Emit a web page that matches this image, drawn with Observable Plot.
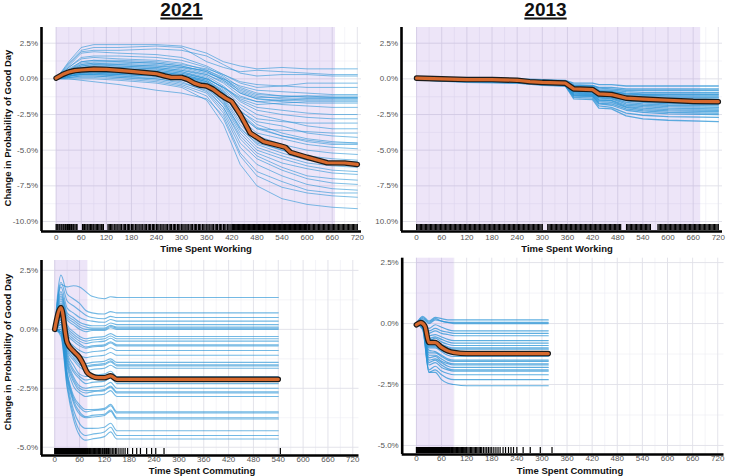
<!DOCTYPE html>
<html>
<head>
<meta charset="utf-8">
<script src="https://cdn.jsdelivr.net/npm/d3@7"></script>
<script src="https://cdn.jsdelivr.net/npm/@observablehq/plot@0.6"></script>
<style>
  html, body { margin: 0; padding: 0; background: white; }
  #page { position: relative; width: 733px; height: 476px; overflow: hidden; background: white;
          font-family: "Liberation Sans", Arial, Helvetica, sans-serif; }
  .panel { position: absolute; overflow: hidden; }
  .lbl { position: absolute; transform: translate(-50%, -50%); white-space: nowrap; line-height: 1; color: #111; }
  .title { font-weight: bold; font-size: 19px; text-decoration: underline; text-decoration-thickness: 2px; text-underline-offset: 2px; }
  .xt { font-weight: bold; font-size: 9.5px; }
  .yt { font-weight: bold; font-size: 9.5px; transform: translate(-50%, -50%) rotate(-90deg); }
</style>
</head>
<body>
<div id="page"></div>
<script>
// ---------------- text ----------------
const panelTitles = ["2021", "2013"];
const yTitle = "Change in Probability of Good Day";
const xTitles = ["Time Spent Working", "Time Spent Commuting"];

// ---------------- ticks ----------------
const xTicks = [0, 60, 120, 180, 240, 300, 360, 420, 480, 540, 600, 660, 720];
const xTickLabels = ["0", "60", "120", "180", "240", "300", "360", "420", "480", "540", "600", "660", "720"];
const xMinor = [30, 90, 150, 210, 270, 330, 390, 450, 510, 570, 630, 690];
const yTicksTop = [-10, -7.5, -5, -2.5, 0, 2.5];
const yTickLabelsTopLeft = ["-10.0%", "-7.5%", "-5.0%", "-2.5%", "0.0%", "2.5%"];
const yTickLabelsTopRight = ["10.0%", "-7.5%", "-5.0%", "-2.5%", "0.0%", "2.5%"];
const yMinorTop = [-8.75, -6.25, -3.75, -1.25, 1.25];
const yTicksBottom = [-5, -2.5, 0, 2.5];
const yTickLabelsBottom = ["-5.0%", "-2.5%", "0.0%", "2.5%"];
const yMinorBottom = [-3.75, -1.25, 1.25];

// ---------------- 2021 working ----------------
const work2021Knots = [0, 30, 60, 90, 150, 240, 300, 360, 400, 440, 480, 540, 600, 660, 720];
const work2021Ice = [
  [0, 1.2, 2.2, 2.4, 2.4, 2.4, 2.3, 1.8, 1.2, 0.9, 0.7, 0.8, 0.7, 0.7, 0.7],
  [0, 1.0, 1.9, 2.0, 2.0, 2.1, 2.0, 1.6, 1.0, 0.4, 0.2, 0.3, 0.3, 0.2, 0.2],
  [0, 0.9, 1.8, 1.9, 1.8, 1.7, 1.5, 0.9, 0.3, -0.3, -0.6, -0.5, -0.3, -0.3, -0.3],
  [0, 0.8, 1.5, 1.6, 1.6, 1.5, 1.3, 0.8, 0.2, -0.6, -1.0, -1.2, -1.2, -1.3, -1.3],
  [0, 0.6, 1.2, 1.3, 1.2, 1.1, 0.9, 0.5, -0.1, -0.8, -1.2, -1.4, -1.4, -1.4, -1.4],
  [0, 0.5, 1.0, 1.1, 1.0, 0.9, 0.7, 0.3, -0.2, -1.0, -1.4, -1.5, -1.5, -1.5, -1.5],
  [0, 0.5, 0.9, 1.0, 0.9, 0.8, 0.6, 0.2, -0.5, -1.5, -2.0, -2.2, -2.4, -2.5, -2.5],
  [0, 0.4, 0.7, 0.8, 0.7, 0.6, 0.4, 0.0, -0.6, -1.4, -1.8, -1.7, -1.6, -1.6, -1.6],
  [0, 0.4, 0.6, 0.7, 0.6, 0.5, 0.3, -0.1, -0.8, -2.0, -2.8, -3.0, -3.1, -3.1, -3.1],
  [0, 0.3, 0.5, 0.6, 0.5, 0.4, 0.2, -0.3, -1.0, -2.5, -3.5, -3.6, -3.7, -3.8, -3.8],
  [0, 0.3, 0.5, 0.5, 0.5, 0.4, 0.2, -0.2, -0.9, -2.2, -3.2, -3.8, -4.2, -4.4, -4.5],
  [0, 0.3, 0.4, 0.5, 0.4, 0.3, 0.1, -0.4, -1.3, -3.0, -4.0, -4.6, -5.0, -5.2, -5.3],
  [0, 0.2, 0.4, 0.4, 0.3, 0.2, 0.0, -0.5, -1.5, -3.5, -4.5, -5.0, -5.6, -5.9, -6.0],
  [0, 0.2, 0.3, 0.3, 0.2, 0.1, -0.1, -0.6, -1.8, -3.8, -5.0, -5.6, -6.1, -6.4, -6.5],
  [0, 0.2, 0.3, 0.3, 0.2, 0.0, -0.3, -0.8, -2.0, -4.2, -5.4, -6.2, -6.8, -7.0, -7.1],
  [0, 0.1, 0.2, 0.2, 0.1, -0.1, -0.4, -1.0, -2.4, -4.8, -6.0, -6.8, -7.4, -7.7, -7.8],
  [0, 0.1, 0.1, 0.1, 0.0, -0.2, -0.5, -1.2, -2.8, -5.4, -6.8, -7.6, -8.0, -8.2, -8.3],
  [0, 0.0, 0.0, 0.0, -0.1, -0.3, -0.6, -1.5, -3.2, -6.0, -7.5, -8.4, -8.8, -9.0, -9.1],
  [0, 0.5, 0.8, 0.9, 0.9, 0.8, 0.6, 0.3, -0.3, -1.2, -1.6, -1.8, -1.9, -2.0, -2.0],
  [0, 0.6, 1.0, 1.1, 1.1, 1.0, 0.8, 0.4, 0.0, -0.5, -0.8, -0.9, -1.0, -1.1, -1.1],
  [0, 0.4, 0.7, 0.8, 0.8, 0.7, 0.5, 0.1, -0.7, -1.8, -2.5, -2.9, -3.3, -3.5, -3.5],
  [0, 0.3, 0.6, 0.6, 0.6, 0.5, 0.3, -0.2, -1.1, -2.8, -3.8, -4.2, -4.6, -4.8, -4.9],
  [0, 0.3, 0.5, 0.6, 0.5, 0.4, 0.2, -0.2, -1.0, -2.6, -3.5, -4.0, -4.3, -4.5, -4.5],
  [0, 0.2, 0.4, 0.4, 0.4, 0.3, 0.1, -0.4, -1.4, -3.2, -4.4, -5.0, -5.4, -5.6, -5.7],
  [0, 0.8, 1.4, 1.5, 1.4, 1.3, 1.1, 0.6, 0.0, -0.7, -1.1, -1.2, -1.3, -1.3, -1.3],
  [0, 0.7, 1.2, 1.3, 1.3, 1.2, 1.0, 0.7, 0.3, -0.2, -0.4, -0.5, -0.6, -0.6, -0.6],
  [0, 0.2, 0.3, 0.3, 0.3, 0.2, 0.0, -0.7, -2.0, -4.0, -5.2, -5.9, -6.3, -6.6, -6.7],
  [0, 0.1, 0.2, 0.2, 0.1, 0.0, -0.2, -0.9, -2.2, -4.5, -5.6, -6.4, -7.0, -7.3, -7.4],
  [0, 0.4, 0.8, 0.9, 0.8, 0.7, 0.5, 0.0, -0.6, -1.6, -2.2, -2.5, -2.7, -2.8, -2.8],
  [0, 1.1, 2.0, 2.2, 2.2, 2.3, 2.2, 1.2, 0.8, 0.5, 0.6, 0.5, 0.4, 0.3, 0.3],
  [0, 0.3, 0.5, 0.5, 0.4, 0.3, 0.1, -0.3, -1.0, -2.4, -3.4, -4.0, -4.4, -4.6, -4.6],
  [0, 0.2, 0.3, 0.4, 0.3, 0.2, 0.0, -0.6, -1.7, -3.6, -4.8, -5.4, -5.9, -6.1, -6.2],
  [0, 0.4, 0.6, 0.7, 0.7, 0.6, 0.4, 0.0, -0.6, -1.3, -1.6, -1.5, -1.4, -1.4, -1.4],
  [0, 0.6, 1.1, 1.2, 1.2, 1.1, 0.9, 0.5, -0.1, -1.0, -1.4, -1.6, -1.7, -1.7, -1.7],
  [0, 0.0, -0.1, -0.2, -0.4, -0.8, -1.0, -1.4, -2.6, -5.2, -6.5, -7.2, -7.8, -8.0, -8.0],
  [0, 0.5, 0.9, 1.0, 1.0, 0.9, 0.8, 0.6, 0.1, -0.9, -1.3, -1.3, -1.2, -1.2, -1.2],
  [0, 0.3, 0.6, 0.7, 0.6, 0.5, 0.3, -0.1, -0.9, -2.3, -3.0, -3.3, -3.8, -4.0, -4.1],
  [0, 0.2, 0.4, 0.5, 0.4, 0.3, 0.1, -0.5, -1.6, -3.4, -4.6, -5.2, -5.7, -5.8, -5.8]
];
const work2021PdX = [0, 15, 30, 45, 60, 90, 120, 150, 180, 210, 240, 260, 275, 300, 315, 330, 345, 360, 375, 390, 405, 420, 440, 464, 496, 536, 548, 560, 600, 648, 690, 720];
const work2021PdY = [0.05, 0.3, 0.48, 0.58, 0.62, 0.68, 0.66, 0.6, 0.52, 0.44, 0.36, 0.2, 0.1, 0.1, -0.05, -0.3, -0.45, -0.5, -0.72, -1.05, -1.35, -1.6, -2.5, -3.8, -4.4, -4.7, -4.8, -5.15, -5.5, -5.88, -5.9, -6.0];
const work2021Shade = [0, 668];
const work2021Rug = [0,2,4,7,9,12,14,17,19,22,24,27,30,32,35,37,40,42,45,48,50,
  63,66,68,71,74,76,79,82,85,88,90,93,96,99,102,105,108,110,113,
  124,127,130,133,136,140,143,146,150,153,156,160,163,166,170,173,176,180,183,186,190,193,196,200,203,206,210,213,216,220,223,226,230,233,236,240,243,246,250,253,256,260,263,266,270,273,276,280,283,286,290,293,296,300,303,306,310,313,316,320,323,326,330,333,336,340,343,346,350,353,356,360,363,366,370,373,376,380,383,386,390,393,396,400,403,406,410,413,416,
  420,422,424,426,428,430,432,434,436,438,440,442,444,446,448,450,452,454,456,458,460,462,464,466,468,470,472,474,476,478,480,482,484,486,488,490,492,494,496,498,500,502,504,506,508,510,512,514,516,518,520,522,524,526,528,530,532,534,536,538,540,542,544,546,548,550,552,554,556,558,560,562,564,566,568,570,572,574,576,578,580,582,584,586,588,590,592,594,596,598,
  600,603,606,609,612,615,618,621,624,627,630,633,636,639,642,645,648,651,654,657,660,663,666,669,672,675,678,681,684,687,690,693,696,699,702,705,708,711,714,717,720];

// ---------------- 2013 working ----------------
const work2013Knots = [0, 60, 120, 240, 300, 355, 375, 420, 435, 465, 500, 540, 600, 720];
const work2013Ice = [
  [0.1, 0.1, 0.05, 0.0, -0.05, -0.1, -0.3, -0.3, -0.4, -0.4, -0.5, -0.5, -0.5, -0.5],
  [0.1, 0.05, 0.0, -0.05, -0.1, -0.15, -0.45, -0.5, -0.65, -0.7, -0.8, -0.8, -0.8, -0.8],
  [0.05, 0.0, 0.0, -0.1, -0.15, -0.2, -0.55, -0.6, -0.85, -0.9, -1.0, -1.05, -1.05, -1.05],
  [0.05, 0.0, -0.05, -0.1, -0.2, -0.25, -0.65, -0.7, -0.95, -1.0, -1.2, -1.25, -1.3, -1.3],
  [0.05, 0.0, -0.05, -0.15, -0.2, -0.25, -0.7, -0.75, -1.05, -1.1, -1.35, -1.4, -1.45, -1.5],
  [0.0, -0.05, -0.1, -0.15, -0.25, -0.3, -0.8, -0.85, -1.15, -1.2, -1.5, -1.6, -1.7, -1.75],
  [0.0, -0.05, -0.1, -0.2, -0.3, -0.35, -0.9, -0.95, -1.3, -1.35, -1.65, -1.75, -1.85, -1.9],
  [0.0, -0.1, -0.15, -0.2, -0.3, -0.4, -1.0, -1.05, -1.45, -1.5, -1.85, -1.95, -2.05, -2.1],
  [0.0, -0.1, -0.15, -0.25, -0.35, -0.4, -1.1, -1.15, -1.6, -1.65, -2.0, -2.15, -2.25, -2.3],
  [-0.05, -0.1, -0.2, -0.25, -0.35, -0.45, -1.2, -1.25, -1.75, -1.85, -2.2, -2.35, -2.45, -2.5],
  [-0.05, -0.15, -0.2, -0.3, -0.4, -0.5, -1.3, -1.35, -1.9, -2.0, -2.4, -2.55, -2.65, -2.7],
  [-0.05, -0.15, -0.25, -0.3, -0.45, -0.5, -1.4, -1.45, -2.05, -2.1, -2.6, -2.8, -2.9, -3.0],
  [0.1, 0.05, 0.0, -0.05, -0.1, -0.15, -0.4, -0.45, -0.6, -0.6, -0.7, -0.7, -0.7, -0.7],
  [0.05, 0.0, -0.05, -0.1, -0.15, -0.2, -0.6, -0.65, -0.9, -0.95, -1.1, -1.15, -1.2, -1.2],
  [0.0, -0.05, -0.1, -0.15, -0.25, -0.3, -0.75, -0.8, -1.1, -1.15, -1.4, -1.5, -1.55, -1.6],
  [0.0, -0.05, -0.1, -0.2, -0.25, -0.35, -0.85, -0.9, -1.25, -1.3, -1.55, -1.65, -1.75, -1.8],
  [0.0, -0.1, -0.1, -0.2, -0.3, -0.4, -0.95, -1.0, -1.35, -1.4, -1.75, -1.85, -1.95, -2.0],
  [-0.05, -0.1, -0.15, -0.25, -0.35, -0.45, -1.15, -1.2, -1.7, -1.75, -2.1, -2.25, -2.35, -2.4],
  [0.05, 0.0, -0.05, -0.1, -0.15, -0.2, -0.5, -0.55, -0.75, -0.8, -0.9, -0.95, -0.95, -0.95],
  [0.0, -0.05, -0.1, -0.15, -0.2, -0.3, -0.7, -0.75, -1.0, -1.05, -1.25, -1.35, -1.4, -1.4],
  [0.05, 0.0, -0.05, -0.1, -0.2, -0.25, -0.6, -0.65, -0.85, -0.9, -1.05, -1.1, -1.1, -1.1],
  [0.0, -0.05, -0.1, -0.2, -0.3, -0.35, -0.85, -0.9, -1.2, -1.25, -1.45, -1.55, -1.6, -1.65],
  [0.0, -0.1, -0.15, -0.25, -0.3, -0.4, -1.05, -1.1, -1.5, -1.55, -1.95, -2.05, -2.15, -2.2]
];
const work2013PdX = [0, 60, 120, 180, 240, 270, 300, 355, 375, 420, 435, 465, 500, 540, 600, 660, 720];
const work2013PdY = [0.05, 0.0, -0.05, -0.05, -0.1, -0.2, -0.25, -0.3, -0.7, -0.75, -1.05, -1.1, -1.35, -1.42, -1.5, -1.58, -1.6];
const work2013Shade = [0, 678];
const work2013Rug = [0,3,6,9,12,15,18,21,24,27,30,33,36,39,42,45,48,51,54,57,60,63,66,69,72,75,78,81,84,87,90,93,96,99,102,105,108,111,114,117,120,123,126,129,132,135,138,141,144,147,150,153,156,159,162,165,168,171,174,177,180,183,186,189,192,195,198,201,204,207,210,213,216,219,222,225,228,231,234,237,240,243,246,249,252,255,258,261,264,267,270,273,276,279,282,285,288,291,294,297,300,
  313,316,319,322,325,328,331,334,337,340,343,346,349,352,355,358,361,364,367,370,373,376,379,382,385,388,391,394,397,400,403,406,409,412,415,418,421,424,427,430,433,436,439,442,445,448,451,454,457,460,463,466,469,472,475,478,481,484,487,
  501,504,507,510,513,516,519,522,525,528,531,534,537,540,543,546,549,552,555,558,
  576,579,582,585,588,591,594,597,600,603,606,609,612,615,618,621,624,627,630,633,636,639,642,645,648,651,654,657,660,663,666,669,672,675,678,681,684,687,690,693,696,699,702,705,708,711,714,717,720];

// ---------------- 2021 commuting ----------------
const commute2021Knots = [0, 15, 30, 45, 60, 75, 90, 120, 135, 150, 540];
const commute2021Ice = [
  [0, 1.9, 1.8, 1.85, 1.8, 1.6, 1.4, 1.3, 1.38, 1.35, 1.35],
  [0, 2.3, 1.5, 1.3, 1.1, 0.8, 0.7, 0.65, 0.75, 0.7, 0.7],
  [0, 2.0, 1.2, 1.0, 0.8, 0.6, 0.5, 0.45, 0.55, 0.5, 0.5],
  [0, 1.8, 0.9, 0.7, 0.5, 0.4, 0.35, 0.3, 0.42, 0.35, 0.35],
  [0, 1.5, 0.6, 0.4, 0.2, 0.1, 0.05, 0.05, 0.17, 0.1, 0.1],
  [0, 1.3, 0.4, 0.2, 0.0, -0.1, -0.05, -0.05, 0.07, 0.0, 0.0],
  [0, 1.2, 0.2, -0.1, -0.3, -0.4, -0.35, -0.3, -0.18, -0.3, -0.3],
  [0, 1.0, 0.0, -0.3, -0.5, -0.6, -0.55, -0.5, -0.38, -0.5, -0.5],
  [0, 0.9, -0.2, -0.5, -0.7, -0.8, -0.75, -0.7, -0.58, -0.7, -0.7],
  [0, 0.8, -0.4, -0.7, -0.9, -1.0, -0.95, -0.9, -0.78, -0.9, -0.9],
  [0, 0.7, -0.5, -0.9, -1.1, -1.2, -1.15, -1.1, -0.98, -1.1, -1.1],
  [0, 0.6, -0.6, -1.0, -1.3, -1.45, -1.4, -1.35, -1.25, -1.4, -1.4],
  [0, 0.5, -0.8, -1.2, -1.5, -1.6, -1.55, -1.5, -1.38, -1.55, -1.55],
  [0, 0.4, -1.0, -1.5, -1.9, -2.0, -1.95, -1.9, -1.78, -2.0, -2.0],
  [0, 0.3, -1.2, -1.8, -2.1, -2.3, -2.25, -2.2, -2.06, -2.3, -2.3],
  [0, 0.2, -1.3, -2.0, -2.4, -2.5, -2.45, -2.4, -2.25, -2.5, -2.5],
  [0, 0.1, -1.5, -2.2, -2.6, -2.7, -2.65, -2.6, -2.45, -2.7, -2.7],
  [0, 0.0, -1.6, -2.4, -2.7, -2.85, -2.8, -2.75, -2.6, -2.85, -2.85],
  [0, 0.0, -1.8, -2.8, -3.2, -3.4, -3.4, -3.35, -3.18, -3.5, -3.5],
  [0, -0.1, -2.0, -3.0, -3.5, -3.7, -3.65, -3.6, -3.42, -3.75, -3.75],
  [0, -0.2, -2.2, -3.4, -4.0, -4.2, -4.2, -4.15, -3.98, -4.3, -4.3],
  [0, -0.2, -2.4, -3.6, -4.3, -4.5, -4.45, -4.35, -4.15, -4.5, -4.5],
  [0, -0.3, -2.5, -3.8, -4.5, -4.7, -4.65, -4.55, -4.35, -4.65, -4.65],
  [0, 1.1, 0.1, -0.2, -0.4, -0.5, -0.45, -0.4, -0.28, -0.4, -0.4],
  [0, 0.9, -0.1, -0.4, -0.6, -0.75, -0.7, -0.65, -0.53, -0.65, -0.65],
  [0, 0.5, -0.7, -1.1, -1.4, -1.55, -1.5, -1.45, -1.33, -1.5, -1.5],
  [0, 0.3, -1.1, -1.7, -2.0, -2.15, -2.1, -2.05, -1.92, -2.1, -2.1],
  [0, -0.1, -1.9, -2.9, -3.3, -3.5, -3.45, -3.4, -3.24, -3.55, -3.55],
  [0, 1.4, 0.5, 0.3, 0.1, 0.0, 0.0, 0.0, 0.12, 0.05, 0.05],
  [0, 0.2, -1.4, -2.1, -2.5, -2.6, -2.6, -2.55, -2.4, -2.65, -2.65],
  [0, 1.6, 0.7, 0.5, 0.3, 0.2, 0.15, 0.15, 0.27, 0.2, 0.2],
  [0, 0.4, -0.9, -1.3, -1.6, -1.75, -1.7, -1.65, -1.52, -1.65, -1.65],
  [0, -0.1, -2.1, -3.1, -3.6, -3.75, -3.72, -3.65, -3.48, -3.8, -3.8]
];
const commute2021PdX = [0, 15, 30, 45, 60, 68, 78, 90, 105, 120, 135, 150, 540];
const commute2021PdY = [0, 0.92, -0.56, -0.92, -1.2, -1.45, -1.82, -1.98, -2.05, -2.05, -1.97, -2.12, -2.12];
const commute2021Shade = [0, 80];
const commute2021Rug = [0,1,2,3,4,5,6,7,8,9,10,11,12,13,14,15,16,17,18,19,20,21,22,23,24,25,26,27,28,29,30,31,32,33,34,35,36,37,38,39,40,41,42,43,44,45,46,47,48,49,50,51,52,53,54,55,56,57,58,59,60,61,62,63,64,65,66,67,68,69,70,
  72,74,75,77,79,80,82,84,86,88,90,92,94,96,98,100,102,104,106,108,110,112,115,117,120,122,125,128,130,133,136,140,143,147,150,155,160,165,170,176,188,198,207,222,234,244,264,545];

// ---------------- 2013 commuting ----------------
const commute2013Knots = [0, 15, 30, 45, 60, 75, 90, 120, 315];
const commute2013Ice = [
  [0, 0.3, 0.1, 0.25, 0.2, 0.15, 0.15, 0.15, 0.15],
  [0, 0.2, 0.0, 0.15, 0.1, 0.05, 0.0, 0.0, 0.0],
  [0, 0.15, -0.2, -0.05, -0.15, -0.25, -0.3, -0.3, -0.3],
  [0, 0.1, -0.4, -0.3, -0.4, -0.45, -0.5, -0.5, -0.5],
  [0, 0.05, -0.5, -0.45, -0.55, -0.65, -0.7, -0.7, -0.7],
  [0, 0.0, -0.7, -0.6, -0.75, -0.85, -0.9, -0.9, -0.9],
  [0, 0.0, -0.8, -0.75, -0.9, -1.0, -1.05, -1.05, -1.05],
  [0, -0.05, -0.9, -0.9, -1.05, -1.15, -1.2, -1.2, -1.2],
  [0, -0.05, -1.0, -1.0, -1.15, -1.3, -1.35, -1.35, -1.35],
  [0, -0.1, -1.1, -1.15, -1.3, -1.45, -1.5, -1.5, -1.5],
  [0, -0.1, -1.3, -1.3, -1.45, -1.6, -1.65, -1.65, -1.65],
  [0, -0.15, -1.5, -1.45, -1.6, -1.75, -1.8, -1.8, -1.8],
  [0, -0.15, -1.7, -1.6, -1.8, -1.9, -1.95, -1.95, -1.95],
  [0, -0.2, -1.9, -1.75, -1.95, -2.05, -2.1, -2.1, -2.1],
  [0, -0.2, -2.0, -1.9, -2.1, -2.25, -2.3, -2.3, -2.3],
  [0, -0.25, -2.0, -2.0, -2.3, -2.45, -2.5, -2.55, -2.55],
  [0, 0.1, -0.3, -0.2, -0.3, -0.35, -0.4, -0.4, -0.4],
  [0, 0.0, -0.6, -0.55, -0.65, -0.75, -0.8, -0.8, -0.8],
  [0, -0.05, -0.95, -0.95, -1.1, -1.2, -1.25, -1.25, -1.25],
  [0, -0.1, -1.2, -1.2, -1.35, -1.5, -1.55, -1.55, -1.55],
  [0, 0.25, 0.05, 0.2, 0.1, 0.05, 0.05, 0.05, 0.05],
  [0, -0.15, -1.6, -1.5, -1.7, -1.85, -1.9, -1.9, -1.9],
  [0, 0.05, -0.6, -0.7, -0.85, -0.95, -1.0, -1.0, -1.0],
  [0, -0.1, -1.4, -1.35, -1.55, -1.65, -1.7, -1.7, -1.7]
];
const commute2013PdX = [0, 10, 20, 30, 45, 60, 75, 90, 120, 315];
const commute2013PdY = [-0.05, 0.04, -0.1, -0.78, -0.78, -0.98, -1.12, -1.19, -1.23, -1.23];
const commute2013Shade = [0, 90];
const commute2013Rug = [0,1,2,3,4,5,6,7,8,9,10,11,12,13,14,15,16,17,18,19,20,21,22,23,24,25,26,27,28,29,30,31,32,33,34,35,36,37,38,39,40,41,42,43,44,45,46,47,48,49,50,51,52,53,54,55,56,57,58,59,60,61,62,63,64,65,66,67,68,69,70,71,72,73,74,75,76,77,78,79,80,
  82,84,86,88,90,92,94,96,98,100,102,104,106,108,110,112,114,116,118,120,123,126,129,132,135,138,141,144,147,150,153,156,160,164,168,172,176,180,185,190,195,200,207,213,220,226,232,240,255,272,296,324];

// ---------------- drawing ----------------
const FONT = "'Liberation Sans', Arial, Helvetica, sans-serif";
const page = document.getElementById("page");

function iceTable(knots, ice) {
  const rows = [];
  ice.forEach((vals, id) => vals.forEach((v, i) => rows.push({id, x: knots[i], y: v})));
  return rows;
}
function pdTable(xs, ys) { return xs.map((x, i) => ({x, y: ys[i]})); }

function panel(cfg) {
  const frameH = cfg.height - cfg.mt - cfg.mb;
  const yd = cfg.yDomain, xd = cfg.xDomain;
  const unitPerPx = (yd[1] - yd[0]) / frameH;
  const rugLo = yd[0] + 1 * unitPerPx, rugHi = yd[0] + 7 * unitPerPx;
  const ice = iceTable(cfg.knots, cfg.ice);
  const pd = pdTable(cfg.pdX, cfg.pdY);
  const svg = Plot.plot({
    width: cfg.width, height: cfg.height,
    marginLeft: cfg.ml, marginRight: cfg.mr, marginTop: cfg.mt, marginBottom: cfg.mb,
    x: {domain: xd, axis: null},
    y: {domain: yd, axis: null},
    style: {fontFamily: FONT, background: "transparent", overflow: "visible"},
    marks: [
      Plot.ruleX(xMinor, {stroke: "#ededf3", strokeWidth: 0.6}),
      Plot.ruleY(cfg.yMinor, {stroke: "#ededf3", strokeWidth: 0.6}),
      Plot.ruleX(xTicks, {stroke: "#e0e0e8", strokeWidth: 0.9}),
      Plot.ruleY(cfg.yTicks, {stroke: "#e0e0e8", strokeWidth: 0.9}),
      Plot.rect([cfg.shade], {x1: d => d[0], x2: d => d[1], y1: () => yd[0], y2: () => yd[1], fill: "#8c5fd6", fillOpacity: 0.16}),
      Plot.line(ice, {x: "x", y: "y", z: "id", stroke: "#2a94d6", strokeOpacity: cfg.iceOpacity, strokeWidth: cfg.iceWidth, curve: cfg.curve}),
      Plot.line(pd, {x: "x", y: "y", stroke: "#1c1c1c", strokeWidth: 5.6, curve: cfg.curve}),
      Plot.line(pd, {x: "x", y: "y", stroke: "#d7692d", strokeWidth: 3.2, curve: cfg.curve}),
      Plot.ruleX(cfg.rug, {x: d => d, y1: () => rugLo, y2: () => rugHi, stroke: "#000", strokeWidth: 1.2}),
      Plot.ruleX([xd[0]], {stroke: "#000", strokeWidth: 2.6}),
      Plot.ruleY([yd[0]], {stroke: "#000", strokeWidth: 2.6}),
      Plot.axisX(xTicks, {anchor: "bottom", tickSize: 0, tickPadding: cfg.xPad, label: null,
        tickFormat: d => xTickLabels[xTicks.indexOf(d)], fontSize: 8, fill: "#555"}),
      Plot.axisY(cfg.yTicks, {anchor: "left", tickSize: 0, tickPadding: 3.5, label: null,
        tickFormat: d => cfg.yLabels[cfg.yTicks.indexOf(d)], fontSize: 8, fill: "#555"})
    ]
  });
  const div = document.createElement("div");
  div.className = "panel";
  div.style.left = cfg.left + "px";
  div.style.top = cfg.top + "px";
  div.style.width = cfg.width + "px";
  div.style.height = cfg.height + "px";
  div.appendChild(svg);
  page.appendChild(div);
}

function label(text, cls, x, y) {
  const d = document.createElement("div");
  d.className = "lbl " + cls;
  d.textContent = text;
  d.style.left = x + "px";
  d.style.top = y + "px";
  page.appendChild(d);
}

panel({left: 0, top: 0, width: 368, height: 245, ml: 41, mr: 7, mt: 27, mb: 14, xPad: 2.5, iceOpacity: 0.6, iceWidth: 1,
  xDomain: [-35, 730], yDomain: [-10.7, 3.6], yTicks: yTicksTop, yLabels: yTickLabelsTopLeft, yMinor: yMinorTop,
  knots: work2021Knots, ice: work2021Ice, pdX: work2021PdX, pdY: work2021PdY, shade: work2021Shade, rug: work2021Rug, curve: "linear"});
panel({left: 370, top: 0, width: 363, height: 245, ml: 31, mr: 11, mt: 27, mb: 14, xPad: 2.5, iceOpacity: 0.75, iceWidth: 1.3,
  xDomain: [-36, 730], yDomain: [-10.7, 3.6], yTicks: yTicksTop, yLabels: yTickLabelsTopRight, yMinor: yMinorTop,
  knots: work2013Knots, ice: work2013Ice, pdX: work2013PdX, pdY: work2013PdY, shade: work2013Shade, rug: work2013Rug, curve: "linear"});
panel({left: 0, top: 252, width: 368, height: 214, ml: 41, mr: 9.5, mt: 8, mb: 11, xPad: 1.2, iceOpacity: 0.65, iceWidth: 1.1,
  xDomain: [-32, 735], yDomain: [-5.35, 2.92], yTicks: yTicksBottom, yLabels: yTickLabelsBottom, yMinor: yMinorBottom,
  knots: commute2021Knots, ice: commute2021Ice, pdX: commute2021PdX, pdY: commute2021PdY, shade: commute2021Shade, rug: commute2021Rug, curve: "monotone-x"});
panel({left: 370, top: 252, width: 363, height: 214, ml: 31.7, mr: 9.5, mt: 5.7, mb: 12, xPad: 1.2, iceOpacity: 0.75, iceWidth: 1.2,
  xDomain: [-34, 735], yDomain: [-5.37, 2.68], yTicks: yTicksBottom, yLabels: yTickLabelsBottom, yMinor: yMinorBottom,
  knots: commute2013Knots, ice: commute2013Ice, pdX: commute2013PdX, pdY: commute2013PdY, shade: commute2013Shade, rug: commute2013Rug, curve: "monotone-x"});

label(panelTitles[0], "title", 181.5, 9);
label(panelTitles[1], "title", 545.5, 9);
label(yTitle, "yt", 8, 128);
label(yTitle, "yt", 8, 352);
label(xTitles[0], "xt", 206, 249);
label(xTitles[0], "xt", 567, 249);
label(xTitles[1], "xt", 202, 471);
label(xTitles[1], "xt", 570, 471);
</script>
</body>
</html>
